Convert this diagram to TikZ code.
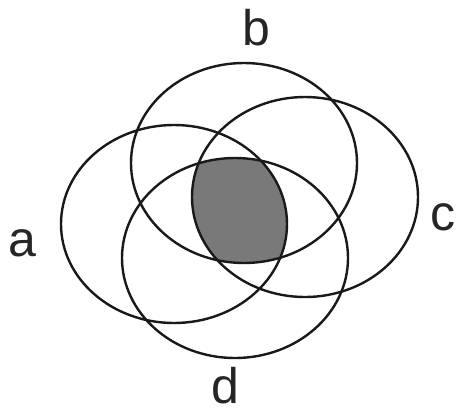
\documentclass[tikz,border=0pt]{standalone}
\usepackage{fontspec}
\setmainfont{Liberation Sans}
\begin{document}
\begin{tikzpicture}[x=1pt,y=-1pt,
  ring/.style={draw=black!90, line width=2.4pt},
  lbl/.style={font=\fontsize{50}{60}\selectfont, inner sep=0pt, text=black!85}]
\useasboundingbox (0,0) rectangle (457,416);
\coordinate (ca) at (174,224);
\coordinate (cb) at (244,163);
\coordinate (cc) at (305,197);
\coordinate (cd) at (235,258);
\begin{scope}
  \clip (ca) ellipse [x radius=113, y radius=99];
  \clip (cb) ellipse [x radius=113, y radius=100];
  \clip (cc) ellipse [x radius=113, y radius=100];
  \fill[gray!95!black] (cd) ellipse [x radius=113, y radius=100];
\end{scope}
\draw[ring] (ca) ellipse [x radius=113, y radius=99];
\draw[ring] (cb) ellipse [x radius=113, y radius=100];
\draw[ring] (cc) ellipse [x radius=113, y radius=100];
\draw[ring] (cd) ellipse [x radius=113, y radius=100];
\node[lbl] (la) at (22,243) {a};
\node[lbl] (lb) at (256,28) {b};
\node[lbl] (lc) at (443,217) {c};
\node[lbl] (ld) at (225,386) {d};
\end{tikzpicture}
\end{document}
